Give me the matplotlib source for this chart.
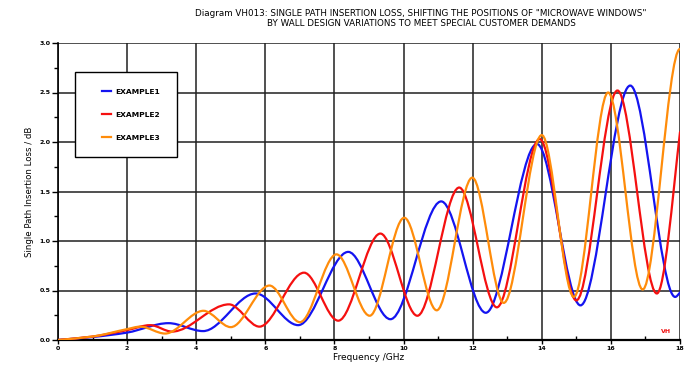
import numpy as np
import matplotlib
matplotlib.use("Agg")
import matplotlib.pyplot as plt
from matplotlib.path import Path
from matplotlib.patches import PathPatch
from matplotlib.lines import Line2D
from matplotlib.legend_handler import HandlerLine2D

# === values (GHz, dB) ===
freq_ex1 = [0.0, 1.0, 2.0, 3.2, 4.2, 5.72, 6.95, 8.4, 9.62, 11.09, 12.38, 13.86, 15.12, 16.56, 17.86, 18.0]
loss_ex1 = [0.0, 0.03, 0.075, 0.17, 0.09, 0.47, 0.15, 0.89, 0.21, 1.40, 0.275, 1.98, 0.35, 2.57, 0.435, 0.48]

freq_ex2 = [0.0, 1.0, 2.0, 2.67, 3.3, 4.95, 5.83, 7.12, 8.11, 9.33, 10.4, 11.61, 12.7, 13.94, 15.0, 16.19, 17.33, 18.0]
loss_ex2 = [0.0, 0.035, 0.10, 0.15, 0.085, 0.36, 0.135, 0.68, 0.195, 1.075, 0.245, 1.54, 0.33, 2.03, 0.40, 2.52, 0.47, 2.10]

freq_ex3 = [0.0, 1.0, 2.0, 2.38, 3.1, 4.21, 5.0, 6.12, 7.0, 8.06, 9.02, 10.02, 10.96, 11.99, 12.9, 14.0, 14.93, 15.92, 16.92, 18.0]
loss_ex3 = [0.0, 0.035, 0.11, 0.135, 0.065, 0.295, 0.13, 0.55, 0.18, 0.865, 0.245, 1.235, 0.30, 1.64, 0.375, 2.07, 0.435, 2.50, 0.51, 2.94]

# slope at 18 GHz, dB/GHz, as seen at the right edge
end_slopes = [0.4, 3.0, 0.0]

names = ["EXAMPLE1", "EXAMPLE2", "EXAMPLE3"]
colors = ["#1414f0", "#f51010", "#ff8c0a"]


def smooth_path(x, y, end_slope):
    # shape preserving cubic (Fritsch-Carlson) drawn as bezier segments
    x = np.asarray(x, float)
    y = np.asarray(y, float)
    h = np.diff(x)
    d = np.diff(y) / h
    m = np.zeros_like(y)
    m[0], m[-1] = d[0], end_slope
    for k in range(1, len(x) - 1):
        if d[k - 1] * d[k] > 0:
            w1 = 2 * h[k] + h[k - 1]
            w2 = h[k] + 2 * h[k - 1]
            m[k] = (w1 + w2) / (w1 / d[k - 1] + w2 / d[k])
    verts = [(x[0], y[0])]
    codes = [Path.MOVETO]
    for k in range(len(x) - 1):
        verts += [(x[k] + h[k] / 3, y[k] + m[k] * h[k] / 3),
                  (x[k + 1] - h[k] / 3, y[k + 1] - m[k + 1] * h[k] / 3),
                  (x[k + 1], y[k + 1])]
        codes += [Path.CURVE4] * 3
    return Path(verts, codes)


plt.rcParams['font.family'] = ['DejaVu Sans']

fig = plt.figure(figsize=(6.88, 3.66), dpi=100)
ax = fig.add_axes([58 / 688, 26 / 366, 622 / 688, 297 / 366])

data = [(freq_ex1, loss_ex1), (freq_ex2, loss_ex2), (freq_ex3, loss_ex3)]
for (fx, fy), es, col in zip(data, end_slopes, colors):
    ax.add_patch(PathPatch(smooth_path(fx, fy, es), facecolor='none', edgecolor=col,
                           lw=1.6, zorder=3, capstyle='round'))

ax.set_xlim(0, 18)
ax.set_ylim(0, 3.0)
ax.set_xticks(np.arange(0, 19, 2))
ax.set_xticks(np.arange(1, 18, 2), minor=True)
ax.set_yticks(np.arange(0, 3.01, 0.5))
ax.set_yticks(np.arange(0.25, 3.0, 0.5), minor=True)
ax.set_yticklabels([f"{v:.1f}" for v in np.arange(0, 3.01, 0.5)])
ax.grid(True, which='major', color='#202020', lw=1.1, zorder=1)

ax.tick_params(axis='x', which='major', direction='out', length=3, width=1,
               labelsize=4.5, pad=1.5)
ax.tick_params(axis='x', which='minor', direction='in', length=3, width=1)
ax.tick_params(axis='y', which='major', direction='out', length=4, width=1,
               labelsize=4.5, pad=1.5)
ax.tick_params(axis='y', which='minor', direction='out', length=3, width=1)
for lab in ax.get_xticklabels() + ax.get_yticklabels():
    lab.set_fontweight('bold')

for s in ['top', 'right']:
    ax.spines[s].set_visible(False)
ax.spines['left'].set_linewidth(1.2)
ax.spines['bottom'].set_linewidth(1.6)

ax.set_xlabel("Frequency /GHz", fontsize=6.5, labelpad=1.5)
ax.set_ylabel("Single Path Insertion Loss / dB", fontsize=6.2, labelpad=4)

fig.text(421 / 688, 1 - 13 / 366, 'Diagram VH013: SINGLE PATH INSERTION LOSS, SHIFTING THE POSITIONS OF "MICROWAVE WINDOWS"',
         ha='center', va='center', fontsize=6.3)
fig.text(421 / 688, 1 - 23 / 366, 'BY WALL DESIGN VARIATIONS TO MEET SPECIAL CUSTOMER DEMANDS',
         ha='center', va='center', fontsize=6.3)

ax.text(0.985, 0.02, "VH", transform=ax.transAxes, color='#f01010', fontsize=4.5,
        fontweight='bold', ha='right', va='bottom')

handles = [Line2D([], [], color=c, lw=1.6) for c in colors]
leg = ax.legend(handles, names, loc='upper left',
                bbox_to_anchor=(17 / 622, 268 / 297), fontsize=5.4,
                frameon=True, fancybox=False, edgecolor='black', framealpha=1,
                borderpad=2.2, labelspacing=2.22, handlelength=2.57,
                handletextpad=0.64, borderaxespad=0,
                handler_map={Line2D: HandlerLine2D(xpad=1.41)})
leg.get_frame().set_linewidth(1.0)
leg.set_zorder(5)
for t in leg.get_texts():
    t.set_fontweight('bold')

fig.savefig("out.png", dpi=100)
